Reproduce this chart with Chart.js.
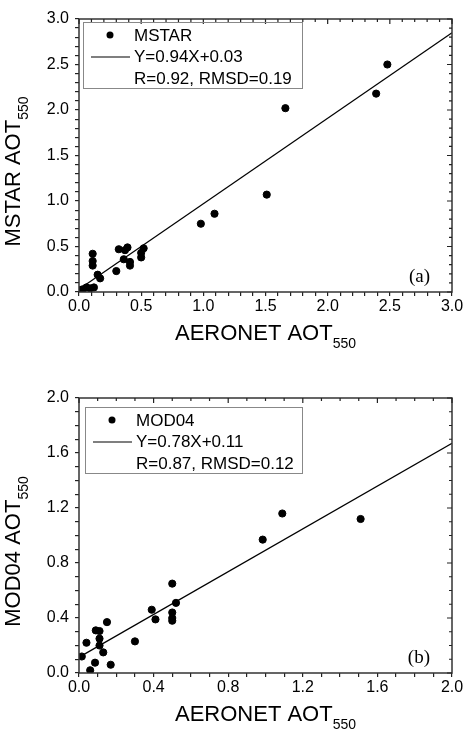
<!DOCTYPE html>
<html>
<head>
<meta charset="utf-8">
<script src="https://cdn.jsdelivr.net/npm/chart.js@4.4.1/dist/chart.umd.min.js"></script>
<style>
  html, body { margin: 0; padding: 0; background: #fff; }
  canvas { display: block; }
</style>
</head>
<body>
<canvas id="chartA" width="464" height="364"></canvas>
<canvas id="chartB" width="464" height="365"></canvas>
<script>
// panel (a): MSTAR vs AERONET
const mstarX = [0.01, 0.03, 0.06, 0.09, 0.12, 0.11, 0.11, 0.11, 0.15, 0.17, 0.30, 0.32, 0.37, 0.39, 0.36, 0.41, 0.41, 0.50, 0.50, 0.52, 0.98, 1.09, 1.51, 1.66, 2.39, 2.48];
const mstarY = [0.02, 0.03, 0.05, 0.04, 0.05, 0.42, 0.34, 0.29, 0.19, 0.15, 0.23, 0.47, 0.46, 0.49, 0.36, 0.33, 0.29, 0.38, 0.43, 0.48, 0.75, 0.86, 1.07, 2.02, 2.18, 2.50];
const fitAX = [0.0, 3.0];
const fitAY = [0.03, 2.85];
const ticksA = [0.0, 0.5, 1.0, 1.5, 2.0, 2.5, 3.0];

// panel (b): MOD04 vs AERONET
const modX = [0.015, 0.04, 0.06, 0.086, 0.09, 0.11, 0.11, 0.11, 0.13, 0.15, 0.17, 0.30, 0.39, 0.41, 0.50, 0.50, 0.50, 0.50, 0.52, 0.985, 1.09, 1.51];
const modY = [0.12, 0.22, 0.02, 0.075, 0.31, 0.305, 0.25, 0.20, 0.15, 0.37, 0.06, 0.23, 0.46, 0.39, 0.65, 0.44, 0.40, 0.38, 0.51, 0.97, 1.16, 1.12];
const fitBX = [0.02, 2.0];
const fitBY = [0.13, 1.67];
const ticksB = [0.0, 0.4, 0.8, 1.2, 1.6, 2.0];

const FONT = '"Liberation Sans", Arial, sans-serif';
const MINOR = 0.1;

// frame, inward ticks on top/right, legend box, panel letter, axis titles
function makeDecor(cfg) {
    return {
        id: 'decor',
        afterDraw(chart) {
            const ctx = chart.ctx;
            const a = chart.chartArea;
            const xs = chart.scales.x, ys = chart.scales.y;
            ctx.save();
            ctx.strokeStyle = '#333';
            ctx.lineWidth = 1.5;
            ctx.strokeRect(a.left, a.top, a.right - a.left, a.bottom - a.top);

            ctx.strokeStyle = '#222';
            ctx.lineWidth = 1.2;
            ctx.beginPath();
            xs.ticks.forEach(t => {
                const len = cfg.isMajor(t.value) ? 5 : 3;
                const px = xs.getPixelForValue(t.value);
                ctx.moveTo(px, a.top); ctx.lineTo(px, a.top + len);
            });
            ys.ticks.forEach(t => {
                const len = cfg.isMajor(t.value) ? 5 : 3;
                const py = ys.getPixelForValue(t.value);
                ctx.moveTo(a.right - len, py); ctx.lineTo(a.right, py);
            });
            ctx.stroke();

            // legend
            const L = cfg.legend;
            ctx.strokeStyle = '#888';
            ctx.lineWidth = 1;
            ctx.strokeRect(L.x + 0.5, L.y + 0.5, L.w, L.h);
            ctx.fillStyle = '#000';
            ctx.beginPath();
            ctx.arc(L.x + 27, L.y + 13, 3.5, 0, Math.PI * 2);
            ctx.fill();
            ctx.strokeStyle = '#000';
            ctx.lineWidth = 1.2;
            ctx.beginPath();
            ctx.moveTo(L.x + 8, L.y + 35); ctx.lineTo(L.x + 47, L.y + 35);
            ctx.stroke();
            ctx.font = '17px ' + FONT;
            ctx.textBaseline = 'middle';
            ctx.textAlign = 'left';
            cfg.legendText.forEach((t, i) => ctx.fillText(t, L.x + 51, L.y + 14 + i * 21.5));

            // panel letter
            ctx.font = '19px "Liberation Serif", "Times New Roman", serif';
            ctx.textAlign = 'right';
            ctx.textBaseline = 'alphabetic';
            ctx.fillText(cfg.panel, a.right - 22, a.bottom - 10);

            const drawSub = (main, sub) => {
                ctx.font = '22px ' + FONT;
                const w1 = ctx.measureText(main).width;
                ctx.font = '14px ' + FONT;
                const w2 = ctx.measureText(sub).width;
                const start = -(w1 + w2) / 2;
                ctx.textAlign = 'left';
                ctx.font = '22px ' + FONT;
                ctx.fillText(main, start, 0);
                ctx.font = '14px ' + FONT;
                ctx.fillText(sub, start + w1, 8);
            };
            ctx.save();
            ctx.translate((a.left + a.right) / 2, a.bottom + 48);
            drawSub(cfg.xTitle, '550');
            ctx.restore();
            ctx.save();
            ctx.translate(20, (a.top + a.bottom) / 2 + 16);
            ctx.rotate(-Math.PI / 2);
            drawSub(cfg.yTitle, '550');
            ctx.restore();

            ctx.restore();
        }
    };
}

function makeChart(id, px, py, fx, fy, tickVals, max, bottomH, topPad, cfg) {
    const pts = px.map((x, i) => ({ x: x, y: py[i] }));
    const line = fx.map((x, i) => ({ x: x, y: fy[i] }));
    const isMajor = v => tickVals.some(t => Math.abs(t - v) < 1e-6);
    cfg.isMajor = isMajor;
    const allTicks = [];
    for (let i = 0; i <= Math.round(max / MINOR); i++) allTicks.push(+(i * MINOR).toFixed(2));

    const tickCfg = {
        color: '#000',
        font: { family: FONT, size: 16 },
        autoSkip: false,
        maxRotation: 0,
        callback: v => isMajor(v) ? v.toFixed(1) : ''
    };
    const gridCfg = {
        display: true,
        drawOnChartArea: false,
        drawTicks: true,
        tickLength: 4,
        color: '#222',
        lineWidth: 1.2
    };
    return new Chart(document.getElementById(id), {
        type: 'scatter',
        data: {
            datasets: [
                { data: pts, backgroundColor: '#000', borderColor: '#000', pointRadius: 3.6, pointHoverRadius: 3.6 },
                { type: 'line', data: line, showLine: true, borderColor: '#000', borderWidth: 1.2, pointRadius: 0, fill: false }
            ]
        },
        options: {
            responsive: false,
            animation: false,
            devicePixelRatio: 1,
            layout: { padding: { top: topPad, right: 0, left: 0, bottom: 0 } },
            plugins: { legend: { display: false }, tooltip: { enabled: false } },
            scales: {
                x: {
                    type: 'linear', min: 0, max: max,
                    afterBuildTicks: s => { s.ticks = allTicks.map(v => ({ value: v })); },
                    afterFit: s => { s.height = bottomH; s.paddingLeft = 0; s.paddingRight = 12; },
                    grid: gridCfg,
                    border: { display: false },
                    ticks: Object.assign({ padding: 1 }, tickCfg)
                },
                y: {
                    type: 'linear', min: 0, max: max,
                    afterBuildTicks: s => { s.ticks = allTicks.map(v => ({ value: v })); },
                    afterFit: s => { s.width = 79; },
                    grid: gridCfg,
                    border: { display: false },
                    ticks: Object.assign({ padding: 6 }, tickCfg)
                }
            }
        },
        plugins: [makeDecor(cfg)]
    });
}

makeChart('chartA', mstarX, mstarY, fitAX, fitAY, ticksA, 3.0, 72, 19, {
    legend: { x: 83, y: 22, w: 219, h: 66 },
    legendText: ['MSTAR', 'Y=0.94X+0.03', 'R=0.92, RMSD=0.19'],
    panel: '(a)',
    xTitle: 'AERONET AOT',
    yTitle: 'MSTAR AOT'
});

makeChart('chartB', modX, modY, fitBX, fitBY, ticksB, 2.0, 56, 34, {
    legend: { x: 85, y: 43, w: 217, h: 66 },
    legendText: ['MOD04', 'Y=0.78X+0.11', 'R=0.87, RMSD=0.12'],
    panel: '(b)',
    xTitle: 'AERONET AOT',
    yTitle: 'MOD04 AOT'
});
</script>
</body>
</html>
